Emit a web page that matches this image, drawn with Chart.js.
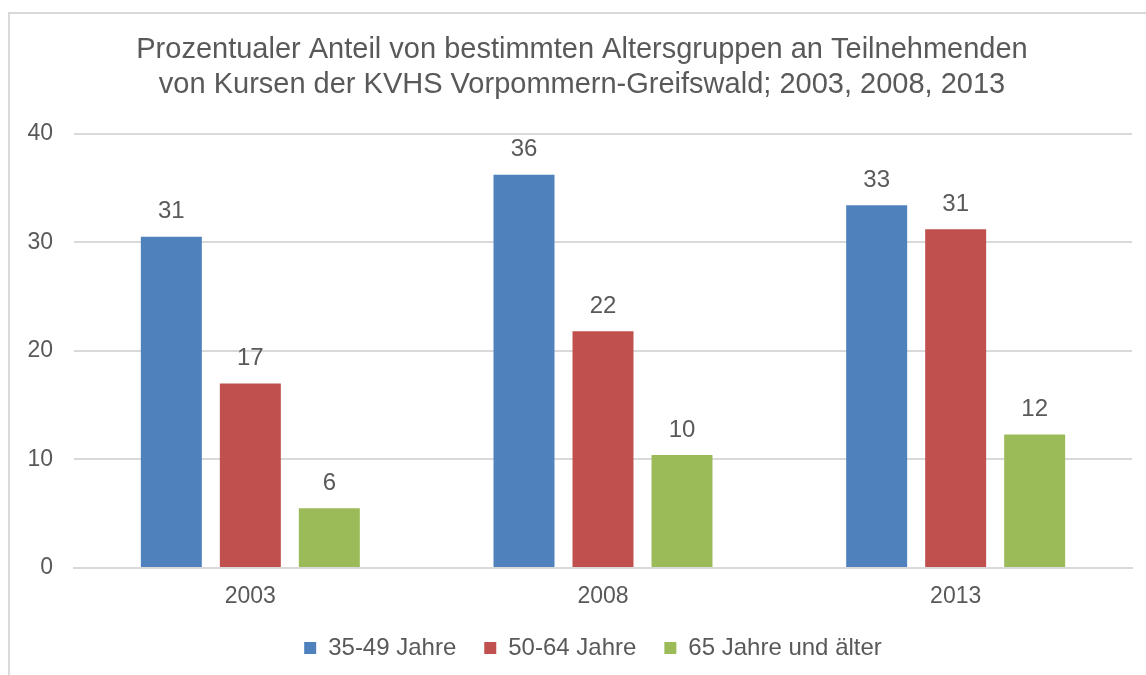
<!DOCTYPE html>
<html>
<head>
<meta charset="utf-8">
<script src="https://cdn.jsdelivr.net/npm/chart.js@4"></script>
<style>
  html, body { margin: 0; padding: 0; background: #fff; }
  #wrap { position: relative; width: 1146px; height: 675px; overflow: hidden; }
  #frame { position: absolute; left: 8px; top: 12px; width: 1200px; height: 700px;
           border-left: 2px solid #d9d9d9; border-top: 2px solid #d9d9d9; box-sizing: border-box; }
  canvas { position: absolute; left: 0; top: 0; }
</style>
</head>
<body>
<div id="wrap">
  <div id="frame"></div>
  <canvas id="ageChart" width="1146" height="675"></canvas>
</div>
<script>
const years = ['2003', '2008', '2013'];
const group3549 = [30.5, 36.2, 33.4];
const group5064 = [17.0, 21.8, 31.2];
const group65plus = [5.5, 10.4, 12.3];
const yTicks = [0, 10, 20, 30, 40];

const grey = '#595959';
Chart.defaults.font.family = '"Liberation Sans", Arial, sans-serif';
Chart.defaults.color = grey;

// value labels above each bar
const barLabels = {
  id: 'barLabels',
  afterDatasetsDraw(chart) {
    const c = chart.ctx;
    c.save();
    c.font = '24px "Liberation Sans", Arial, sans-serif';
    c.fillStyle = grey;
    c.textAlign = 'center';
    c.textBaseline = 'middle';
    chart.data.datasets.forEach((ds, i) => {
      chart.getDatasetMeta(i).data.forEach((bar, j) => {
        c.fillText(Math.round(ds.data[j]), bar.x, bar.y - 25);
      });
    });
    c.restore();
  }
};

// title and legend sit a bit right of the canvas centre in the original
const nudge = {
  id: 'nudge',
  afterLayout(chart) {
    chart.titleBlock.left += 16;
    chart.titleBlock.right += 16;
    chart.legend.left += 27;
    chart.legend.right += 27;
  }
};

const ctx = document.getElementById('ageChart').getContext('2d');
new Chart(ctx, {
  type: 'bar',
  data: {
    labels: years,
    datasets: [
      { label: '35-49 Jahre', data: group3549, backgroundColor: '#4f81bd' },
      { label: '50-64 Jahre', data: group5064, backgroundColor: '#c0504d' },
      { label: '65 Jahre und älter', data: group65plus, backgroundColor: '#9bbb59' }
    ]
  },
  options: {
    responsive: false,
    animation: false,
    layout: { padding: { top: 12, right: 14, bottom: 5, left: 0 } },
    datasets: { bar: { categoryPercentage: 0.672, barPercentage: 0.772 } },
    plugins: {
      title: {
        display: true,
        text: ['Prozentualer Anteil von bestimmten Altersgruppen an Teilnehmenden',
               'von Kursen der KVHS Vorpommern-Greifswald; 2003, 2008, 2013'],
        font: { size: 29, weight: 'normal', lineHeight: 1.2 },
        color: grey,
        padding: { top: 21, bottom: 31 }
      },
      legend: {
        position: 'bottom',
        labels: { boxWidth: 12, boxHeight: 12, font: { size: 24 }, color: grey, padding: 28 }
      },
      tooltip: { enabled: false }
    },
    scales: {
      x: {
        afterFit: axis => { axis.height = 40; },
        grid: { display: false },
        border: { color: '#d9d9d9', width: 2 },
        ticks: { font: { size: 23 }, color: grey, padding: 7 }
      },
      y: {
        min: 0,
        max: 40,
        afterBuildTicks: axis => { axis.ticks = yTicks.map(v => ({ value: v })); },
        afterFit: axis => { axis.width = 74; },
        grid: { color: '#d9d9d9', lineWidth: 2, drawTicks: false },
        border: { display: false },
        ticks: { font: { size: 23 }, color: grey, padding: 21 }
      }
    }
  },
  plugins: [barLabels, nudge]
});
</script>
</body>
</html>
